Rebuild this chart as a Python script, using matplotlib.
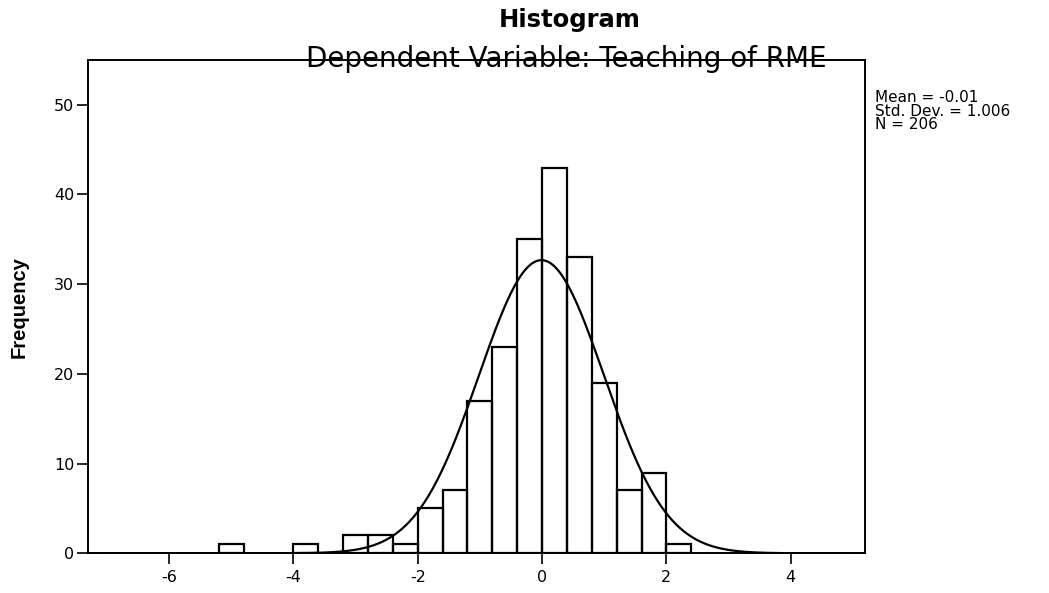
import numpy as np
import matplotlib
matplotlib.use("Agg")
import matplotlib.pyplot as plt

# bin left edges and counts (bin width 0.4)
bin_left = [-5.2, -4.0, -3.2, -2.8, -2.4, -2.0, -1.6, -1.2, -0.8, -0.4,
            0.0, 0.4, 0.8, 1.2, 1.6, 2.0]
counts = [1, 1, 2, 2, 1, 5, 7, 17, 23, 35, 43, 33, 19, 7, 9, 1]
bin_width = 0.4

mean = -0.01
std = 1.006
n = 206

x_ticks = [-6, -4, -2, 0, 2, 4]
y_ticks = [0, 10, 20, 30, 40, 50]

plt.rcParams['font.family'] = ['DejaVu Sans']

fig = plt.figure(figsize=(10.49, 5.93), dpi=100)
ax = fig.add_axes([0.084, 0.067, 0.741, 0.832])

ax.bar(bin_left, counts, width=bin_width, align='edge', fill=False,
       edgecolor='black', linewidth=1.6)

#normal curve scaled to counts
xs = np.linspace(-7.3, 5.2, 400)
ys = n * bin_width * np.exp(-0.5 * ((xs - mean) / std) ** 2) / (std * np.sqrt(2 * np.pi))
ax.plot(xs, ys, color='black', linewidth=1.6)

ax.set_xlim(-7.3, 5.2)
ax.set_ylim(0, 55)
ax.set_xticks(x_ticks)
ax.set_xticklabels([str(t) for t in x_ticks])
ax.set_yticks(y_ticks)
ax.tick_params(axis='both', direction='out', length=8, width=1.2,
               labelsize=11.5, colors='black')
ax.tick_params(axis='x', pad=4)
ax.tick_params(axis='y', pad=2)
for s in ax.spines.values():
    s.set_linewidth(1.4)

ax.set_ylabel("Frequency", fontsize=14.5, fontweight='bold', labelpad=18,
              family='Liberation Sans')

fig.text(0.543, 0.966, "Histogram", ha='center', va='center',
         fontsize=17.5, fontweight='bold')
fig.text(0.54, 0.9, "Dependent Variable: Teaching of RME", ha='center',
         va='center', fontsize=20)
fig.text(0.834, 0.848, "Mean = -0.01\nStd. Dev. = 1.006\nN = 206",
         ha='left', va='top', fontsize=11, linespacing=0.88)

fig.savefig("out.png", dpi=100)
